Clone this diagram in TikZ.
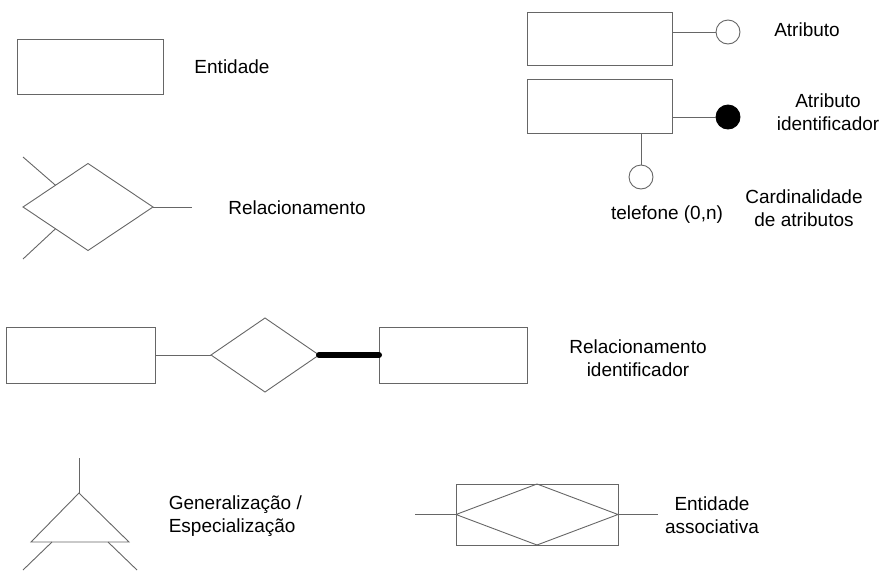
\documentclass[tikz,border=0pt]{standalone}
\usepackage{fontspec}
\setmainfont{Liberation Sans}
\usetikzlibrary{shapes.geometric}
\begin{document}
\begin{tikzpicture}[x=1pt, y=-1pt, line width=0.9pt,
    entidade/.style={draw=black!60, rectangle, inner sep=0pt, outer sep=0pt},
    losango/.style={draw=black!60, diamond, inner sep=0pt, outer sep=0pt},
    atributo/.style={draw=black!60, circle, minimum size=24pt, inner sep=0pt, outer sep=0pt},
    rotulo/.style={align=center, font=\fontsize{19}{23}\selectfont},
    liga/.style={draw=black!60}]
    \useasboundingbox (0, 0) rectangle (884, 571);

    \node [entidade, minimum width=146pt, minimum height=55pt] (ent) at (90, 66.5) {};
    \node [rotulo] (tent) at (232, 67) {Entidade};

    \node [losango, minimum width=130pt, minimum height=87pt] (rel) at (88, 207) {};
    \coordinate (relnw) at (23, 157);
    \coordinate (relsw) at (23, 259);
    \coordinate (rele) at (192, 207);
    \draw [liga] (rel.north west) -- (relnw);
    \draw [liga] (rel.south west) -- (relsw);
    \draw [liga] (rel.east) -- (rele);
    \node [rotulo] (trel) at (297, 208) {Relacionamento};

    \node [entidade, minimum width=145pt, minimum height=53pt] (enta) at (599.5, 38.5) {};
    \node [atributo] (atr) at (728, 32) {};
    \draw [liga] (atr.west) -- (atr.west -| enta.east);
    \node [rotulo] (tatr) at (807, 30) {Atributo};

    \node [entidade, minimum width=145pt, minimum height=54pt] (entb) at (599.5, 106) {};
    \node [atributo, fill=black, draw=black] (atrid) at (728, 117) {};
    \draw [liga] (atrid.west) -- (atrid.west -| entb.east);
    \node [rotulo] (tatrid) at (828, 112) {Atributo\\identificador};

    \node [atributo] (tel) at (641, 177) {};
    \draw [liga] (tel.north) -- (tel.north |- entb.south);
    \node [rotulo] (ttel) at (667, 215) {telefone (0,n)};
    \node [rotulo] (tcard) at (804, 208) {Cardinalidade\\de atributos};

    \node [entidade, minimum width=149pt, minimum height=56pt] (entc) at (80.5, 355) {};
    \node [losango, minimum width=108pt, minimum height=74pt] (relid) at (265, 355) {};
    \node [entidade, minimum width=148pt, minimum height=56pt] (entd) at (453, 355) {};
    \draw [liga] (entc.east) -- (relid.west);
    \draw [black, line width=6pt, line cap=round] (relid.east) -- (entd.west);
    \node [rotulo] (trelid) at (638, 358) {Relacionamento\\identificador};

    \coordinate (gtopo) at (79, 458);
    \coordinate (gapice) at (79, 493);
    \coordinate (gbe) at (31, 542);
    \coordinate (gbd) at (129, 542);
    \draw [liga] (gtopo) -- (gapice);
    \draw [liga] (gapice) -- (gbe) -- (gbd) -- cycle;
    \draw [liga] (52, 542) -- (23, 570);
    \draw [liga] (108, 542) -- (137, 570);
    \node [rotulo, align=left, anchor=west] (tgen) at (165, 516) {Generalização /\\Especialização};

    \node [entidade, minimum width=162pt, minimum height=61pt] (assoc) at (537, 514.5) {};
    \draw [liga] (assoc.west) -- (assoc.north) -- (assoc.east) -- (assoc.south) -- cycle;
    \coordinate (assoce) at (415, 514.5);
    \coordinate (assocd) at (658, 514.5);
    \draw [liga] (assoce) -- (assoc.west);
    \draw [liga] (assoc.east) -- (assocd);
    \node [rotulo] (tassoc) at (712, 515) {Entidade\\associativa};
\end{tikzpicture}
\end{document}
